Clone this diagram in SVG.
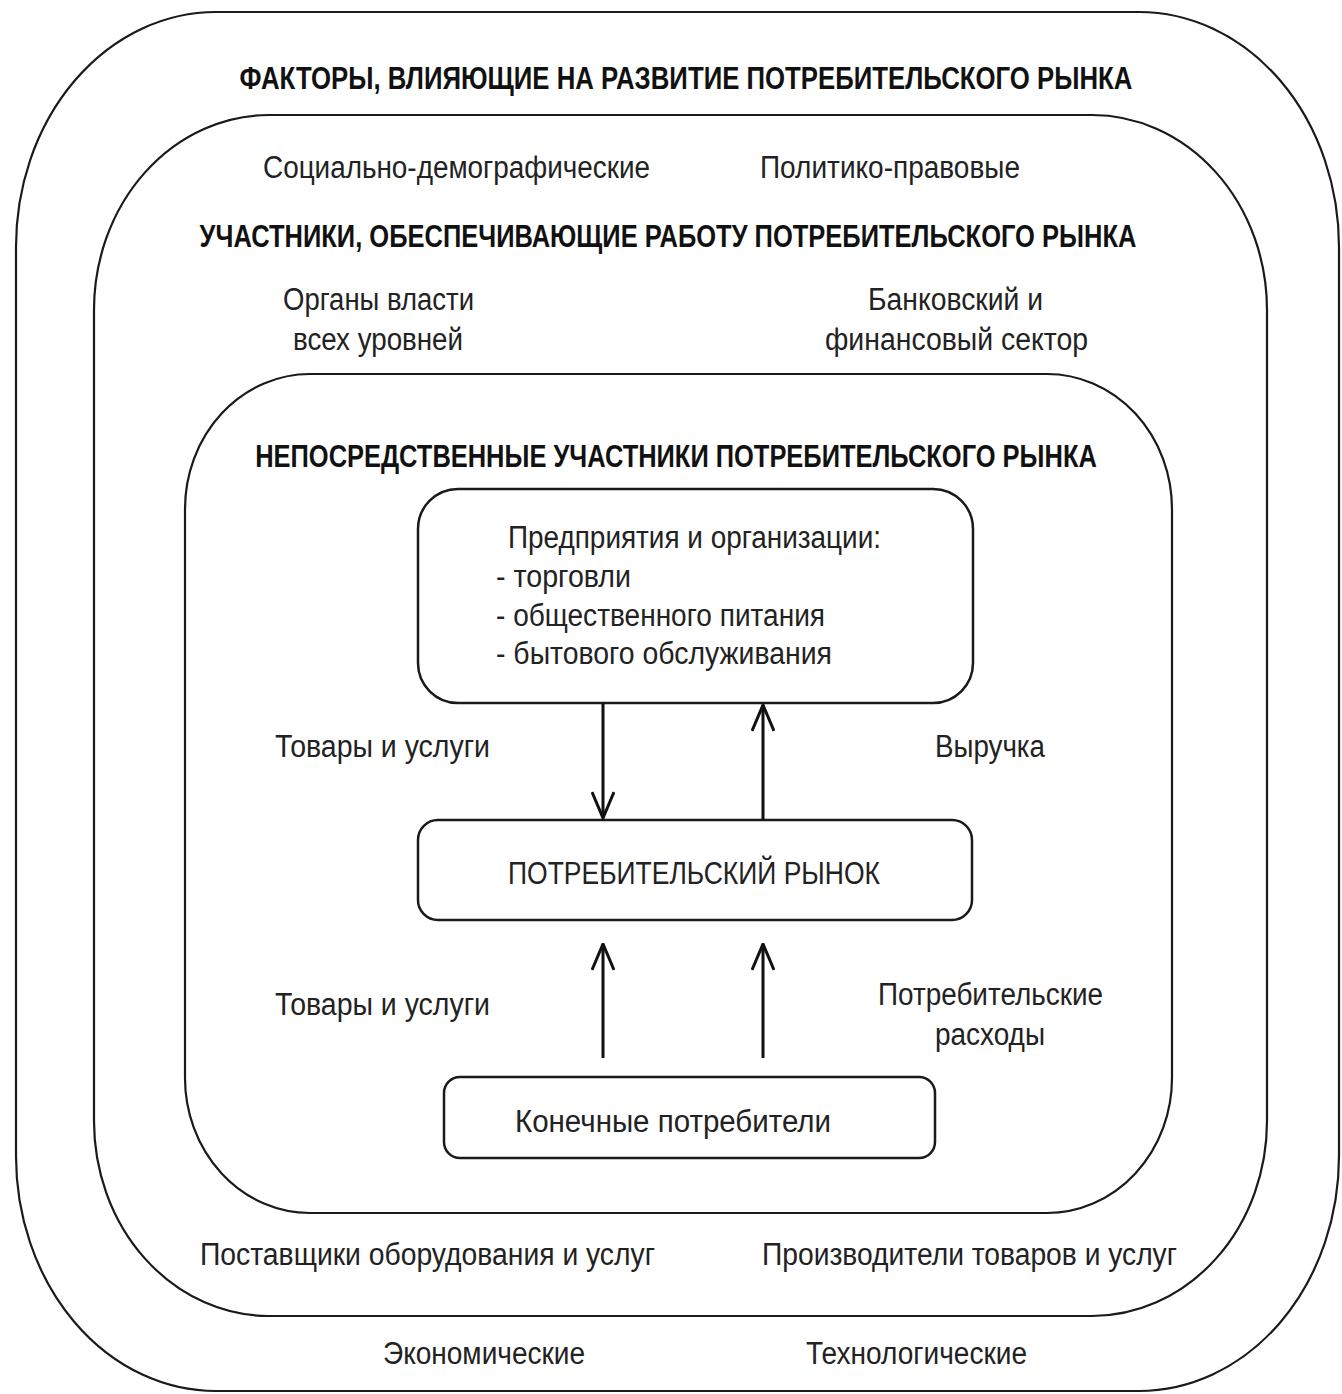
<svg xmlns="http://www.w3.org/2000/svg" width="1342" height="1394" viewBox="0 0 1342 1394">
<defs>
<style>
.frame{fill:none;stroke:#1a1a1a;stroke-width:2.2}
.box{fill:#fff;stroke:#1a1a1a;stroke-width:2.5}
.conn{fill:none;stroke:#111;stroke-width:3}
.t{font-family:"Liberation Sans",Arial,sans-serif;font-size:31px;fill:#222}
.h{font-family:"Liberation Sans",Arial,sans-serif;font-size:32px;font-weight:bold;fill:#111;text-anchor:middle}
</style>
<marker id="arr" viewBox="0 0 28 24" refX="27" refY="12" markerWidth="28" markerHeight="24" markerUnits="userSpaceOnUse" orient="auto">
<path d="M1,1 L27,12 L1,23" fill="none" stroke="#111" stroke-width="3"/>
</marker>
</defs>
<rect width="1342" height="1394" fill="#fff"/>

<g id="factors">
<path class="frame" d="M 216 12 H 1139 A 200 235 0 0 1 1339 247 V 1156 A 200 235 0 0 1 1139 1391 H 216 A 200 235 0 0 1 16 1156 V 247 A 200 235 0 0 1 216 12 Z"/>
<text class="h" transform="translate(686 89) scale(0.8 1)" x="0" y="0" textLength="1116" lengthAdjust="spacingAndGlyphs">ФАКТОРЫ, ВЛИЯЮЩИЕ НА РАЗВИТИЕ ПОТРЕБИТЕЛЬСКОГО РЫНКА</text>
<text class="t" x="263" y="178" textLength="387" lengthAdjust="spacingAndGlyphs">Социально-демографические</text>
<text class="t" x="760" y="178" textLength="260" lengthAdjust="spacingAndGlyphs">Политико-правовые</text>
<text class="t" x="383" y="1364" textLength="202" lengthAdjust="spacingAndGlyphs">Экономические</text>
<text class="t" x="806" y="1364" textLength="221" lengthAdjust="spacingAndGlyphs">Технологические</text>
</g>

<g id="support">
<path class="frame" d="M 269 115 H 1092 A 175 195 0 0 1 1267 310 V 1121 A 175 195 0 0 1 1092 1316 H 269 A 175 195 0 0 1 94 1121 V 310 A 175 195 0 0 1 269 115 Z"/>
<text class="h" transform="translate(668 247) scale(0.8 1)" x="0" y="0" textLength="1171" lengthAdjust="spacingAndGlyphs">УЧАСТНИКИ, ОБЕСПЕЧИВАЮЩИЕ РАБОТУ ПОТРЕБИТЕЛЬСКОГО РЫНКА</text>
<text class="t" x="283" y="310" textLength="191" lengthAdjust="spacingAndGlyphs">Органы власти</text>
<text class="t" x="293" y="350" textLength="170" lengthAdjust="spacingAndGlyphs">всех уровней</text>
<text class="t" x="868" y="310" textLength="175" lengthAdjust="spacingAndGlyphs">Банковский и</text>
<text class="t" x="825" y="350" textLength="263" lengthAdjust="spacingAndGlyphs">финансовый сектор</text>
<text class="t" x="200" y="1265" textLength="455" lengthAdjust="spacingAndGlyphs">Поставщики оборудования и услуг</text>
<text class="t" x="762" y="1265" textLength="415" lengthAdjust="spacingAndGlyphs">Производители товаров и услуг</text>
</g>

<g id="direct">
<path class="frame" d="M 310 374 H 1047 A 125 135 0 0 1 1172 509 V 1078 A 125 135 0 0 1 1047 1213 H 310 A 125 135 0 0 1 185 1078 V 509 A 125 135 0 0 1 310 374 Z"/>
<text class="h" transform="translate(676 467) scale(0.8 1)" x="0" y="0" textLength="1052" lengthAdjust="spacingAndGlyphs">НЕПОСРЕДСТВЕННЫЕ УЧАСТНИКИ ПОТРЕБИТЕЛЬСКОГО РЫНКА</text>
</g>

<g id="enterprises">
<rect class="box" x="418" y="489" width="555" height="214" rx="40" ry="40"/>
<text class="t" x="508" y="548" textLength="373" lengthAdjust="spacingAndGlyphs">Предприятия и организации:</text>
<text class="t" x="496" y="587" textLength="135" lengthAdjust="spacingAndGlyphs">- торговли</text>
<text class="t" x="496" y="626" textLength="329" lengthAdjust="spacingAndGlyphs">- общественного питания</text>
<text class="t" x="496" y="664" textLength="336" lengthAdjust="spacingAndGlyphs">- бытового обслуживания</text>
</g>

<g id="market">
<rect class="box" x="418" y="820" width="554" height="100" rx="20" ry="20"/>
<text class="t" x="508" y="884" textLength="372" lengthAdjust="spacingAndGlyphs">ПОТРЕБИТЕЛЬСКИЙ РЫНОК</text>
</g>

<g id="consumers">
<rect class="box" x="444" y="1077" width="491" height="81" rx="16" ry="16"/>
<text class="t" x="515" y="1132" textLength="316" lengthAdjust="spacingAndGlyphs">Конечные потребители</text>
</g>

<g id="connectors">
<line class="conn" x1="603" y1="703" x2="603" y2="818" marker-end="url(#arr)"/>
<line class="conn" x1="763" y1="820" x2="763" y2="705" marker-end="url(#arr)"/>
<line class="conn" x1="603" y1="1058" x2="603" y2="944" marker-end="url(#arr)"/>
<line class="conn" x1="763" y1="1058" x2="763" y2="944" marker-end="url(#arr)"/>
<text class="t" x="275" y="757" textLength="215" lengthAdjust="spacingAndGlyphs">Товары и услуги</text>
<text class="t" x="935" y="757" textLength="110" lengthAdjust="spacingAndGlyphs">Выручка</text>
<text class="t" x="275" y="1015" textLength="215" lengthAdjust="spacingAndGlyphs">Товары и услуги</text>
<text class="t" x="878" y="1005" textLength="225" lengthAdjust="spacingAndGlyphs">Потребительские</text>
<text class="t" x="935" y="1045" textLength="110" lengthAdjust="spacingAndGlyphs">расходы</text>
</g>
</svg>
